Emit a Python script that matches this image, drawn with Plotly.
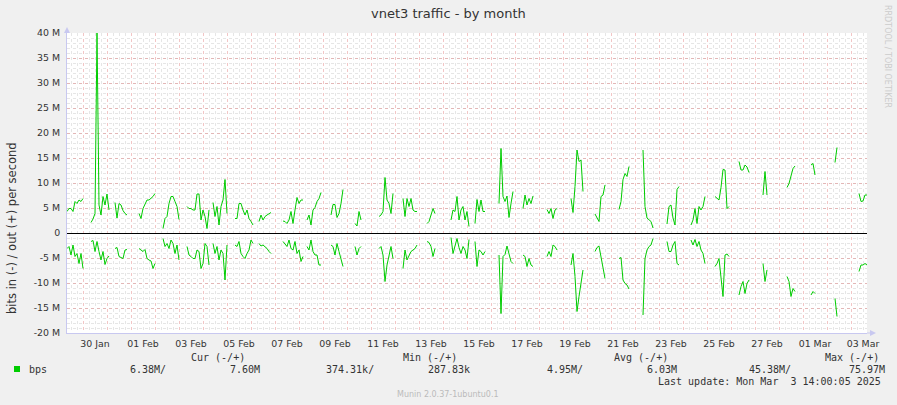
import plotly.graph_objects as go
from datetime import datetime, timedelta

# ---------------- data (values in Mbit/s, 2-hour samples) ----------------
STEP_HOURS = 2
range_start = "2025-01-29 08:00"
range_end = "2025-03-03 16:00"

seg_start = [
    "2025-01-29 08:00", "2025-01-30 08:00", "2025-01-31 08:00", "2025-02-01 08:00",
    "2025-02-02 08:00", "2025-02-03 08:00", "2025-02-04 10:00", "2025-02-05 08:00",
    "2025-02-06 08:00", "2025-02-07 08:00", "2025-02-08 08:00", "2025-02-09 08:00",
    "2025-02-10 08:00", "2025-02-11 08:00", "2025-02-12 08:00", "2025-02-13 08:00",
    "2025-02-14 08:00", "2025-02-15 08:00", "2025-02-16 08:00", "2025-02-17 08:00",
    "2025-02-18 08:00", "2025-02-19 08:00", "2025-02-20 08:00", "2025-02-21 08:00",
    "2025-02-22 08:00", "2025-02-23 08:00", "2025-02-24 08:00", "2025-02-25 08:00",
    "2025-02-26 08:00", "2025-02-27 08:00", "2025-02-28 08:00", "2025-03-01 08:00",
    "2025-03-02 08:00", "2025-03-03 08:00",
]

out_vals = [
    [4.3, 4.9, 4.9, 4.3, 6.3, 5.9, 6.6, 6.3, 6.9],
    [2.1, 2.8, 3.9, 40.0, 5.6, 3.6, 7.3, 5.6, 7.8, 4.6],
    [6.1, 3.0, 5.9, 5.6, 4.5, 3.9, 3.6],
    [3.9, 2.9, 4.9, 5.6, 6.6, 6.6, 6.9, 7.3, 7.9],
    [0.9, 2.9, 3.3, 5.9, 7.3, 7.3, 6.3, 5.3, 2.7],
    [5.3, 4.9, 4.9, 4.6, 4.6, 7.8, 7.8, 2.6, 4.6, 3.3, 0.9, 4.6],
    [6.1, 3.3, 5.3, 1.6, 5.3, 6.6, 10.7, 3.9],
    [2.9, 2.9, 5.9, 5.9, 4.6, 3.6, 4.6, 2.9, 2.3, 1.6],
    [2.3, 3.6, 2.6, 3.3, 3.6, 3.9, 4.1],
    [2.4, 2.3, 1.9, 2.6, 4.3, 1.9, 4.6, 7.1, 5.9, 6.6, 6.6],
    [2.6, 3.6, 1.6, 4.6, 5.1, 6.3, 6.9, 8.1],
    [3.6, 5.7, 5.7, 3.1, 3.9, 5.9, 8.7],
    [1.9, 1.4, 4.3, 2.6],
    [3.3, 3.6, 4.3, 11.1, 6.6, 5.9, 3.9, 7.9],
    [6.9, 3.3, 6.9, 5.3, 6.9, 4.6, 4.3, 4.3],
    [1.9, 2.3, 3.6, 4.9, 3.9],
    [2.6, 4.6, 4.3, 7.3, 2.6, 4.6, 5.3, 2.6, 4.3, 1.3],
    [1.9, 6.7, 4.3, 6.6, 4.3, 4.3],
    [5.9, 16.9, 7.3, 6.3, 7.4, 3.1, 5.9, 8.3],
    [4.9, 7.6, 5.6, 6.9, 5.9, 7.4],
    [4.7, 3.9, 4.9, 2.9, 4.6, 4.9],
    [6.9, 4.1, 9.3, 16.6, 14.3, 14.6, 8.3],
    [3.8, 2.9, 2.3, 7.3, 7.6, 9.6],
    [4.7, 6.3, 10.7, 11.9, 11.3, 13.3],
    [16.6, 5.3, 3.0, 2.6, 2.3, 1.0],
    [1.8, 5.3, 5.6, 3.0, 1.6, 8.7, 9.3],
    [1.6, 2.6, 4.9, 1.9, 5.3, 4.6, 5.3, 7.3],
    [7.3, 6.9, 6.6, 9.1, 12.7, 12.6, 4.9, 5.3],
    [14.3, 12.6, 12.6, 13.6, 13.2, 12.1],
    [7.6, 12.3, 7.6],
    [9.1, 9.9, 11.4, 12.9, 13.4],
    [13.6, 13.9, 11.6],
    [14.1, 17.1],
    [7.9, 6.3, 6.4, 7.6, 7.6],
]

in_vals = [
    [-3.1, -2.7, -4.4, -2.4, -4.7, -4.1, -6.1, -4.1, -7.1],
    [-1.7, -1.5, -3.7, -1.7, -3.7, -5.4, -3.7, -6.3, -5.1, -4.6],
    [-3.1, -2.9, -4.7, -4.9, -5.1, -3.4, -3.3],
    [-3.1, -3.4, -3.7, -3.3, -5.1, -5.4, -5.6, -7.1, -6.1],
    [-1.1, -2.7, -2.1, -3.1, -1.4, -2.1, -4.1, -2.4, -5.4],
    [-2.7, -4.4, -4.7, -5.1, -5.1, -3.4, -3.7, -7.1, -6.1, -2.1, -2.7, -6.4],
    [-2.1, -4.1, -2.7, -5.4, -3.4, -4.1, -9.4, -2.4],
    [-2.4, -2.7, -1.7, -4.1, -4.7, -5.1, -4.1, -3.4, -1.4, -2.1],
    [-2.1, -2.6, -2.4, -2.7, -3.1, -3.7, -4.1],
    [-1.7, -2.1, -2.7, -1.4, -3.1, -3.4, -1.7, -4.1, -3.4, -5.7, -4.7],
    [-2.7, -3.4, -1.4, -3.7, -4.4, -4.4, -6.4, -6.4],
    [-2.4, -2.7, -4.4, -2.1, -3.7, -5.1, -6.7],
    [-2.7, -4.4, -3.1, -2.7],
    [-3.1, -2.7, -4.4, -9.7, -6.4, -4.4, -2.7, -5.1],
    [-7.1, -3.4, -5.4, -4.4, -3.7, -3.4, -3.1, -2.4],
    [-1.7, -1.9, -2.7, -4.7, -3.1],
    [-0.9, -4.1, -2.6, -1.1, -2.9, -4.1, -2.7, -3.4, -5.1, -1.3],
    [-1.7, -6.7, -3.4, -3.7, -4.4, -3.7],
    [-4.4, -16.1, -4.7, -4.3, -2.6, -4.4, -5.7, -6.1],
    [-4.4, -4.7, -6.7, -5.1, -6.4, -6.7],
    [-4.7, -3.7, -4.7, -2.4, -2.7, -3.4],
    [-6.4, -4.1, -8.7, -15.7, -12.7, -10.1, -7.4],
    [-3.7, -2.9, -2.6, -4.7, -6.4, -9.1],
    [-5.1, -4.9, -9.4, -10.1, -10.4, -11.2],
    [-16.4, -5.1, -3.4, -2.7, -2.4, -1.1],
    [-1.7, -3.7, -3.7, -2.4, -1.7, -6.1, -6.4],
    [-1.4, -2.4, -1.3, -2.7, -1.7, -3.4, -4.1, -6.1],
    [-6.7, -6.1, -5.1, -8.7, -12.7, -4.4, -4.2, -4.7],
    [-12.4, -10.7, -9.7, -12.1, -10.1, -9.4],
    [-6.1, -9.7, -7.4],
    [-8.7, -9.7, -12.7, -11.1, -11.7],
    [-12.4, -11.7, -12.1],
    [-13.1, -16.7],
    [-7.7, -6.4, -6.4, -6.1, -6.4],
]

x_label_dates = ["2025-01-30", "2025-02-01", "2025-02-03", "2025-02-05", "2025-02-07",
                 "2025-02-09", "2025-02-11", "2025-02-13", "2025-02-15", "2025-02-17",
                 "2025-02-19", "2025-02-21", "2025-02-23", "2025-02-25", "2025-02-27",
                 "2025-03-01", "2025-03-03"]
x_label_text = ["30 Jan", "01 Feb", "03 Feb", "05 Feb", "07 Feb", "09 Feb", "11 Feb",
                "13 Feb", "15 Feb", "17 Feb", "19 Feb", "21 Feb", "23 Feb", "25 Feb",
                "27 Feb", "01 Mar", "03 Mar"]

y_tick_vals = [40, 35, 30, 25, 20, 15, 10, 5, 0, -5, -10, -15, -20]
y_tick_text = ["40 M", "35 M", "30 M", "25 M", "20 M", "15 M", "10 M", "5 M", "0",
               "-5 M", "-10 M", "-15 M", "-20 M"]

legend_headers = ["Cur (-/+)", "Min (-/+)", "Avg (-/+)", "Max (-/+)"]
legend_values = ["6.38M/", "7.60M", "374.31k/", "287.83k", "4.95M/", "6.03M", "45.38M/", "75.97M"]

# ---------------- build series ----------------
def build(series):
    xs, ys = [], []
    for start, vals in zip(seg_start, series):
        t0 = datetime.strptime(start, "%Y-%m-%d %H:%M")
        for k, v in enumerate(vals):
            xs.append(t0 + timedelta(hours=STEP_HOURS * k))
            ys.append(v)
        xs.append(None)
        ys.append(None)
    return xs, ys

GREEN = "#00CC00"
xo, yo = build(out_vals)
xi, yi = build(in_vals)

fig = go.Figure()
fig.add_trace(go.Scatter(x=xi, y=yi, mode="lines", line=dict(color=GREEN, width=1),
                         connectgaps=False, showlegend=False, hoverinfo="skip"))
fig.add_trace(go.Scatter(x=xo, y=yo, mode="lines", line=dict(color=GREEN, width=1),
                         connectgaps=False, showlegend=False, hoverinfo="skip"))
# invisible trace so the overlay label axis renders
fig.add_trace(go.Scatter(x=[range_start, range_end], y=[0, 0], xaxis="x2", mode="lines",
                         line=dict(width=0), opacity=0, showlegend=False, hoverinfo="skip"))

L, R, T, B = 67, 30, 33, 72
W, H = 897, 405
PW, PH = W - L - R, H - T - B


def px(x):
    return (x - L) / PW


def py(y):
    return (T + PH - y) / PH


RED_GRID = "rgba(225,120,120,0.42)"
GRAY_GRID = "rgba(200,200,200,0.45)"
TXT = "#333333"

fig.update_layout(
    width=W, height=H,
    margin=dict(l=L, r=R, t=T, b=B, pad=0),
    paper_bgcolor="#F0F0F0",
    plot_bgcolor="#FFFFFF",
    font=dict(family="DejaVu Sans", size=10, color=TXT),
    xaxis=dict(
        type="date", range=[range_start, range_end],
        tick0="2025-01-30", dtick=86400000,
        showgrid=True, gridcolor=RED_GRID, griddash="dot", gridwidth=1,
        minor=dict(dtick=6 * 3600000, tick0="2025-01-30", showgrid=True,
                   gridcolor=GRAY_GRID, griddash="dot", gridwidth=1),
        showticklabels=False, ticks="", zeroline=False,
        showline=True, linecolor="#C8C8F0", linewidth=1,
        fixedrange=True,
    ),
    xaxis2=dict(
        type="date", range=[range_start, range_end], overlaying="x", anchor="y",
        side="bottom", tickmode="array",
        tickvals=[d + " 12:00" for d in x_label_dates], ticktext=x_label_text,
        showgrid=False, ticks="", ticklen=0, zeroline=False, showline=False,
        tickfont=dict(family="DejaVu Sans", size=9.4, color=TXT),
        ticklabelstandoff=4,
        fixedrange=True,
    ),
    yaxis=dict(
        range=[-20, 40], tickmode="array", tickvals=y_tick_vals, ticktext=y_tick_text,
        showgrid=True, gridcolor=RED_GRID, griddash="dot", gridwidth=1,
        minor=dict(dtick=1, tick0=0, showgrid=True, gridcolor=GRAY_GRID,
                   griddash="dot", gridwidth=1),
        zeroline=True, zerolinecolor="#000000", zerolinewidth=1.2,
        showline=True, linecolor="#C8C8F0", linewidth=1,
        ticks="", ticklen=0, ticklabelstandoff=4,
        tickfont=dict(family="DejaVu Sans", size=9.4, color=TXT),
        fixedrange=True,
    ),
    showlegend=False,
)

ann = []
# title
ann.append(dict(x=px(448), y=py(13), xref="paper", yref="paper", text="vnet3 traffic - by month",
                showarrow=False, xanchor="center", yanchor="middle",
                font=dict(family="DejaVu Sans", size=13, color="#333333")))
# y-axis title
ann.append(dict(x=px(12), y=py(228), xref="paper", yref="paper",
                text="bits in (-) / out (+) per second", textangle=-90,
                showarrow=False, xanchor="center", yanchor="middle",
                font=dict(family="DejaVu Sans", size=11.5, color=TXT)))
# rrdtool credit
ann.append(dict(x=px(888), y=py(56), xref="paper", yref="paper",
                text="RRDTOOL / TOBI OETIKER", textangle=90,
                showarrow=False, xanchor="center", yanchor="middle",
                font=dict(family="DejaVu Sans", size=8, color="#CCCCCC")))
# legend headers
MONO = dict(family="DejaVu Sans Mono", size=10, color=TXT)
header_x = [189, 401, 612, 823]
for hx, ht in zip(header_x, legend_headers):
    ann.append(dict(x=px(hx), y=py(357), xref="paper", yref="paper", text=ht,
                    showarrow=False, xanchor="left", yanchor="middle", font=MONO))
ann.append(dict(x=px(27), y=py(369), xref="paper", yref="paper", text="bps",
                showarrow=False, xanchor="left", yanchor="middle", font=MONO))
value_x = [128, 228, 324, 426, 545, 645, 747, 847]
for vx, vt in zip(value_x, legend_values):
    ann.append(dict(x=px(vx), y=py(369), xref="paper", yref="paper", text=vt,
                    showarrow=False, xanchor="left", yanchor="middle", font=MONO))
ann.append(dict(x=px(883), y=py(381), xref="paper", yref="paper",
                text="Last update: Mon Mar  3 14:00:05 2025".replace("  ", "&nbsp; "),
                showarrow=False, xanchor="right", yanchor="middle", font=MONO))
ann.append(dict(x=px(448), y=py(395), xref="paper", yref="paper",
                text="Munin 2.0.37-1ubuntu0.1", showarrow=False,
                xanchor="center", yanchor="middle",
                font=dict(family="DejaVu Sans", size=8, color="#BBBBBB")))
fig.update_layout(annotations=ann)

shapes = []
# legend colour swatch
shapes.append(dict(type="rect", xref="paper", yref="paper",
                   x0=px(14), x1=px(20), y0=py(372), y1=py(366),
                   fillcolor=GREEN, line=dict(width=0)))
# axis arrows
shapes.append(dict(type="path", xref="paper", yref="paper",
                   path=f"M {px(64)},{py(33)} L {px(70)},{py(33)} L {px(67)},{py(27)} Z",
                   fillcolor="#C8C8F0", line=dict(width=0)))
shapes.append(dict(type="line", xref="paper", yref="paper",
                   x0=px(867), x1=px(871), y0=py(333), y1=py(333),
                   line=dict(color="#C8C8F0", width=1)))
shapes.append(dict(type="path", xref="paper", yref="paper",
                   path=f"M {px(870)},{py(330)} L {px(870)},{py(336)} L {px(876)},{py(333)} Z",
                   fillcolor="#C8C8F0", line=dict(width=0)))
fig.update_layout(shapes=shapes)

fig.write_html("out.html")
